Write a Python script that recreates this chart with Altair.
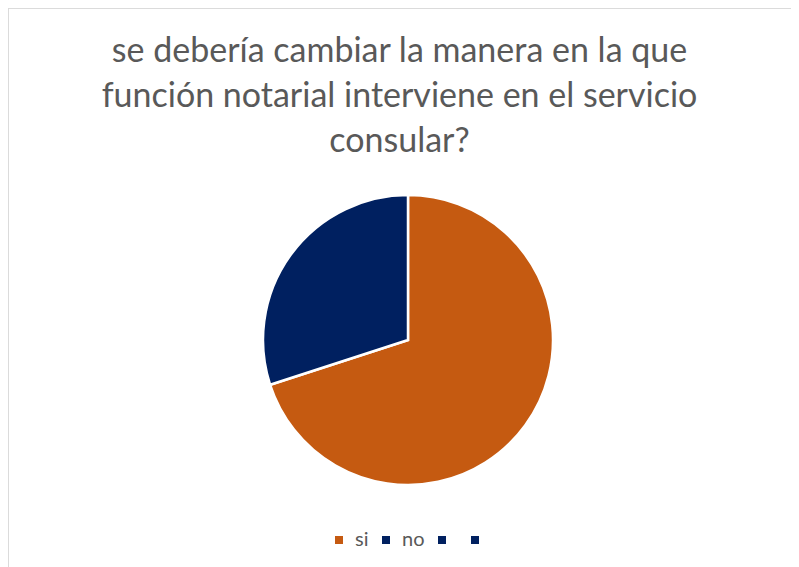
import altair as alt
import pandas as pd

categories = ["si", "no"]
values = [70, 30]
legend_domain = ["si", "no", " ", "  "]
legend_colors = ["#C55A11", "#002060", "#002060", "#002060"]
title_lines = [
    "se debería cambiar la manera en la que",
    "función notarial interviene en el servicio",
    "consular?",
]

df = pd.DataFrame({"cat": categories, "val": values, "ord": list(range(len(categories)))})

pie = (
    alt.Chart(df)
    .mark_arc(outerRadius=145, stroke="white", strokeWidth=2.5)
    .encode(
        theta=alt.Theta("val:Q", stack=True),
        order=alt.Order("ord:Q"),
        color=alt.Color(
            "cat:N",
            scale=alt.Scale(domain=legend_domain, range=legend_colors),
            legend=alt.Legend(
                title=None,
                orient="none",
                legendX=321,
                legendY=522,
                direction="horizontal",
                columns=4,
                symbolType="square",
                symbolSize=64,
                symbolStrokeWidth=0,
                labelFontSize=20,
                labelFont="Lato",
                labelColor="#595959",
                labelOffset=6,
                columnPadding=7,
                labelExpr="datum.label == 'si' || datum.label == 'no' ? datum.label : ''",
            ),
        ),
        x=alt.value(400),
        y=alt.value(332),
    )
)

border_left = alt.Chart(df).mark_rule(color="#D9D9D9", strokeWidth=1.5).encode(
    x=alt.value(0), y=alt.value(0), y2=alt.value(600)
)
border_top = alt.Chart(df).mark_rule(color="#D9D9D9", strokeWidth=1.5).encode(
    x=alt.value(0), x2=alt.value(783), y=alt.value(0)
)

chart = (
    alt.layer(border_left, border_top, pie)
    .properties(
        width=783,
        height=600,
        autosize=alt.AutoSizeParams(type="none"),
        padding=0,
        title=alt.TitleParams(
            text=title_lines,
            fontSize=34,
            font="Lato",
            fontWeight="normal",
            color="#595959",
            anchor="middle",
            lineHeight=45,
            dy=156,
        ),
    )
    .configure_view(stroke=None)
)

chart.save("out.html", embed_options={"renderer": "svg", "actions": False})
